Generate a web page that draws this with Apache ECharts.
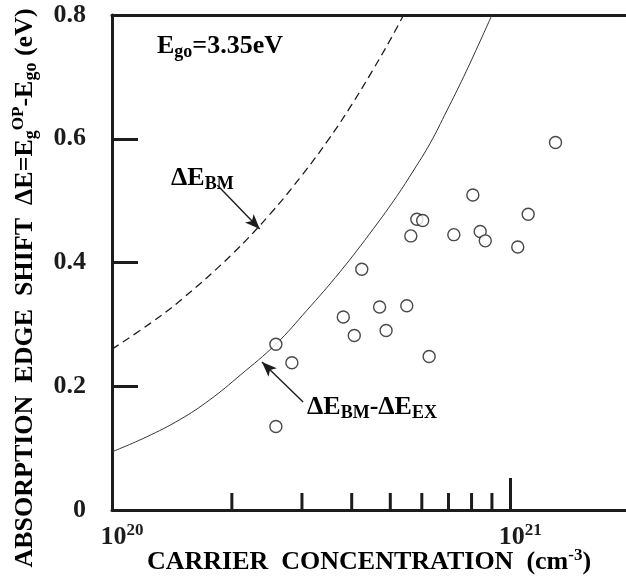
<!DOCTYPE html>
<html>
<head>
<meta charset="utf-8">
<script src="https://cdn.jsdelivr.net/npm/echarts@6/dist/echarts.min.js"></script>
<style>
html,body{margin:0;padding:0;background:#fff}
#main{width:626px;height:579px}
</style>
</head>
<body>
<div id="main"></div>
<script>
// carrier concentration (cm-3) -> absorption edge shift (eV)
var bmX = [1e20, 1.25e20, 1.5e20, 2e20, 2.5e20, 3e20, 3.5e20, 4e20, 4.5e20, 5e20, 5.4e20];
var bmY = [0.26, 0.302, 0.341, 0.413, 0.479, 0.541, 0.599, 0.655, 0.709, 0.760, 0.800];

var exX = [1e20, 1.22e20, 1.48e20, 1.76e20, 2.1e20, 2.58e20, 3.08e20, 3.74e20, 4.54e20, 5.19e20, 5.71e20, 6.3e20, 6.93e20, 7.64e20, 8.41e20, 9.0e20];
var exY = [0.094, 0.118, 0.146, 0.178, 0.218, 0.268, 0.322, 0.385, 0.455, 0.507, 0.548, 0.593, 0.645, 0.700, 0.758, 0.800];

var measX = [2.58e20, 2.83e20, 2.58e20, 3.81e20, 4.24e20, 4.06e20, 4.70e20, 4.88e20, 5.50e20, 5.63e20,
             5.83e20, 6.03e20, 6.26e20, 7.22e20, 8.06e20, 8.41e20, 8.66e20, 1.045e21, 1.11e21, 1.30e21];
var measY = [0.268, 0.238, 0.135, 0.312, 0.389, 0.282, 0.328, 0.290, 0.330, 0.443,
             0.470, 0.468, 0.248, 0.445, 0.509, 0.450, 0.435, 0.425, 0.478, 0.594];

var minorTicks = [2e20, 3e20, 4e20, 5e20, 6e20, 7e20, 8e20, 9e20];

var ink = '#1c1c1c';
var serif = 'Liberation Serif';

function pairs(xs, ys) {
  var out = [];
  for (var i = 0; i < xs.length; i++) out.push([xs[i], ys[i]]);
  return out;
}

var txt = {
  a: {fontFamily: serif, fontWeight: 'bold', fontSize: 26, color: ink, lineHeight: 30, verticalAlign: 'middle'},
  sub: {fontFamily: serif, fontWeight: 'bold', fontSize: 18, color: ink, lineHeight: 12, verticalAlign: 'bottom'},
  sup: {fontFamily: serif, fontWeight: 'bold', fontSize: 17, color: ink, lineHeight: 14, verticalAlign: 'top'}
};

var myChart = echarts.init(document.getElementById('main'), null, {renderer: 'canvas'});

var option = {
  backgroundColor: '#fff',
  animation: false,
  grid: {left: 112, top: 15, right: -4, bottom: 69, containLabel: false, outerBoundsMode: 'none'},
  xAxis: [{
    type: 'log',
    logBase: 10,
    min: 1e20,
    max: 2e21,
    axisLine: {lineStyle: {color: ink, width: 3}},
    axisTick: {inside: true, length: 32, lineStyle: {color: ink, width: 3}},
    splitLine: {show: false},
    axisLabel: {
      showMaxLabel: false,
      margin: 12,
      padding: [0, 0, 0, 20],
      formatter: function (v) {
        return '{a|10}{sup|' + Math.round(Math.log10(v)) + '}';
      },
      rich: txt
    }
  }, {
    type: 'log',
    logBase: 10,
    min: 1e20,
    max: 2e21,
    position: 'top',
    axisLine: {lineStyle: {color: ink, width: 3}},
    axisTick: {show: false},
    axisLabel: {show: false},
    splitLine: {show: false}
  }],
  yAxis: {
    type: 'value',
    min: 0,
    max: 0.8,
    interval: 0.2,
    axisLine: {show: true, lineStyle: {color: ink, width: 3}},
    axisTick: {inside: true, length: 26, lineStyle: {color: ink, width: 3}},
    splitLine: {show: false},
    axisLabel: {
      margin: 26,
      fontFamily: serif,
      fontWeight: 'bold',
      fontSize: 26,
      color: ink,
      formatter: function (v) { return v === 0 ? '0' : v.toFixed(1); }
    }
  },
  series: [{
    name: 'dEBM',
    type: 'line',
    data: pairs(bmX, bmY),
    smooth: 0.4,
    showSymbol: false,
    lineStyle: {color: ink, width: 1.3, type: [8, 5]},
    z: 2
  }, {
    name: 'dEBM-dEEX',
    type: 'line',
    data: pairs(exX, exY),
    smooth: 0.4,
    showSymbol: false,
    lineStyle: {color: '#333', width: 1},
    z: 2
  }, {
    name: 'measured',
    type: 'scatter',
    data: pairs(measX, measY),
    symbol: 'circle',
    symbolSize: 12,
    itemStyle: {color: '#fff', borderColor: ink, borderWidth: 1.4},
    z: 4,
    markLine: {
      silent: true,
      symbol: ['none', 'arrow'],
      symbolSize: [9, 15],
      label: {show: false},
      lineStyle: {color: ink, width: 1.4, type: 'solid'},
      data: [
        [{coord: [1.84e20, 0.525]}, {coord: [2.35e20, 0.454]}],
        [{coord: [3.02e20, 0.1745]}, {coord: [2.38e20, 0.239]}]
      ]
    }
  }, {
    // minor log ticks along the bottom axis
    type: 'custom',
    silent: true,
    data: minorTicks.map(function (v) { return [v, 0]; }),
    renderItem: function (params, api) {
      var p = api.coord([api.value(0), 0]);
      return {
        type: 'line',
        shape: {x1: p[0], y1: p[1], x2: p[0], y2: p[1] - 17},
        style: {stroke: ink, lineWidth: 3}
      };
    },
    z: 3
  }],
  graphic: [{
    type: 'text', left: 157, top: 33,
    style: {text: '{a|E}{sub|go}{a|=3.35eV}', rich: txt}
  }, {
    type: 'text', left: 171, top: 165,
    style: {text: '{a|ΔE}{sub|BM}', rich: txt}
  }, {
    type: 'text', left: 307, top: 394,
    style: {text: '{a|ΔE}{sub|BM}{a|-ΔE}{sub|EX}', rich: txt}
  }, {
    type: 'text', x: 369, y: 562,
    style: {
      text: '{a|CARRIER  CONCENTRATION  (cm}{sup|-3}{a|)}',
      rich: txt, align: 'center', verticalAlign: 'middle'
    }
  }, {
    type: 'text', x: 25, y: 288, rotation: Math.PI / 2,
    style: {
      text: '{a|ABSORPTION  EDGE  SHIFT  ΔE=E}{sub|g}{sup|OP}{a|-E}{sub|go}{a| (eV)}',
      rich: txt, align: 'center', verticalAlign: 'middle'
    }
  }]
};

myChart.setOption(option);
</script>
</body>
</html>
